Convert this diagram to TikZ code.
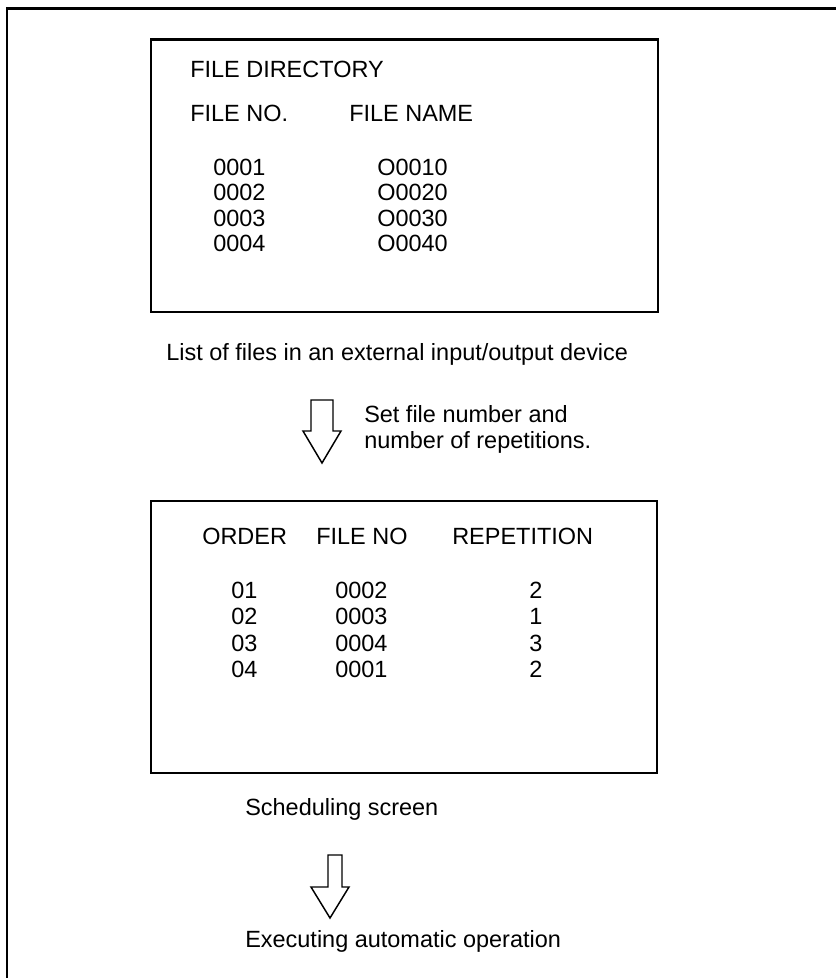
\documentclass[tikz,border=0pt]{standalone}
\usepackage{fontspec}
\setmainfont{Liberation Sans}
\begin{document}
\begin{tikzpicture}[x=0.75pt,y=-0.75pt,
  txt/.style={anchor=base west,inner sep=0pt,font=\fontsize{17.6pt}{19.3pt}\selectfont},
  screen/.style={draw,line width=1.6pt},
  blockarrow/.style={draw,line width=1.1pt,line join=miter}]
\useasboundingbox (0,0) rectangle (836,978);
% outer frame (open to the right and bottom)
\draw[line width=1.8pt] (7,978) -- (7,8.5) -- (836,8.5);
% box 1
\draw[screen] (151,39.5) rectangle (658,312);
\node[txt] (fd) at (190,77) {FILE DIRECTORY};
\node[txt] (fno) at (190,121) {FILE NO.};
\node[txt] (fname) at (349,121) {FILE NAME};
\node[txt] (n1) at (213,175) {0001};
\node[txt] (n2) at (213,200.5) {0002};
\node[txt] (n3) at (213,226) {0003};
\node[txt] (n4) at (213,251.5) {0004};
\node[txt] (o1) at (377,175) {O0010};
\node[txt] (o2) at (377,200.5) {O0020};
\node[txt] (o3) at (377,226) {O0030};
\node[txt] (o4) at (377,251.5) {O0040};
\node[txt] (cap1) at (166,360) {List of files in an external input/output device};
% arrow 1
\draw[blockarrow] (311,400) -- (333,400) -- (333,431) -- (341,431) -- (322,463) -- (303,431) -- (311,431) -- cycle;
\node[txt] (set1) at (364,422) {Set file number and};
\node[txt] (set2) at (364,448) {number of repetitions.};
% box 2
\draw[screen] (151,501) rectangle (657,773);
\node[txt] (ord) at (202,544) {ORDER};
\node[txt] (fno2) at (316,544) {FILE NO};
\node[txt] (rep) at (452,544) {REPETITION};
\node[txt] (r1) at (231,598) {01};
\node[txt] (r2) at (231,624.5) {02};
\node[txt] (r3) at (231,651) {03};
\node[txt] (r4) at (231,677.5) {04};
\node[txt] (f1) at (335,598) {0002};
\node[txt] (f2) at (335,624.5) {0003};
\node[txt] (f3) at (335,651) {0004};
\node[txt] (f4) at (335,677.5) {0001};
\node[txt] (p1) at (529,598) {2};
\node[txt] (p2) at (529,624.5) {1};
\node[txt] (p3) at (529,651) {3};
\node[txt] (p4) at (529,677.5) {2};
\node[txt] (cap2) at (245,815) {Scheduling screen};
% arrow 2
\draw[blockarrow] (328,855) -- (342,855) -- (342,887) -- (349,887) -- (330,918) -- (311,887) -- (328,887) -- cycle;
\node[txt] (cap3) at (245,947) {Executing automatic operation};
\end{tikzpicture}
\end{document}
